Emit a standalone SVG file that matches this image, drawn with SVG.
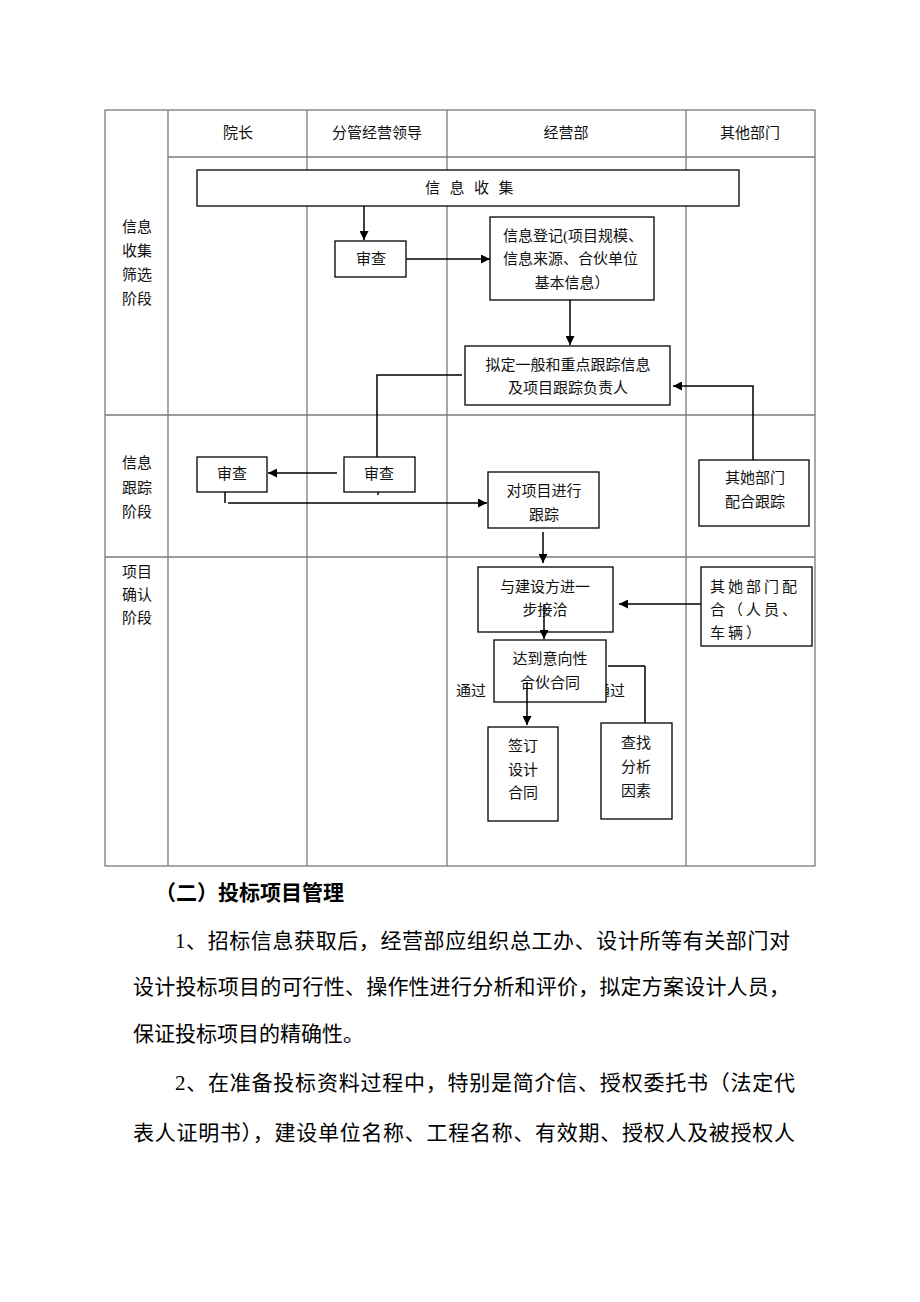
<svg xmlns="http://www.w3.org/2000/svg" width="920" height="1302" viewBox="0 0 920 1302">
<style>
.grid{stroke:#7a7a7a;stroke-width:1.3;fill:none}
.box{fill:#fff;stroke:#000;stroke-width:1.3}
.t{font-family:"Liberation Serif","Noto Sans CJK SC",serif;font-size:15px;fill:#111;text-anchor:middle;dominant-baseline:central}
.tl{text-anchor:start}
.c{stroke:#000;stroke-width:1.5;fill:none}
.p{font-family:"Liberation Serif","Noto Sans CJK SC",serif;font-size:21px;fill:#000;dominant-baseline:central}
</style>
<defs>
<marker id="ah" viewBox="0 0 10 10" refX="10" refY="5" markerWidth="9" markerHeight="9" markerUnits="userSpaceOnUse" orient="auto">
<path d="M0,0 L10,5 L0,10 z" fill="#000"/>
</marker>
</defs>
<rect width="920" height="1302" fill="#fff"/>
<g id="table">
<rect class="grid" x="105" y="110" width="710" height="756"/>
<line class="grid" x1="168" y1="110" x2="168" y2="866"/>
<line class="grid" x1="307" y1="110" x2="307" y2="866"/>
<line class="grid" x1="447" y1="110" x2="447" y2="866"/>
<line class="grid" x1="686" y1="110" x2="686" y2="866"/>
<line class="grid" x1="168" y1="157" x2="815" y2="157"/>
<line class="grid" x1="105" y1="415" x2="815" y2="415"/>
<line class="grid" x1="105" y1="557" x2="815" y2="557"/>
<text class="t" x="238" y="133">院长</text>
<text class="t" x="377" y="133">分管经营领导</text>
<text class="t" x="566" y="133">经营部</text>
<text class="t" x="750" y="133">其他部门</text>
<text class="t" x="137" y="227">信息</text>
<text class="t" x="137" y="251">收集</text>
<text class="t" x="137" y="275">筛选</text>
<text class="t" x="137" y="299">阶段</text>
<text class="t" x="137" y="463">信息</text>
<text class="t" x="137" y="488">跟踪</text>
<text class="t" x="137" y="512">阶段</text>
<text class="t" x="137" y="572">项目</text>
<text class="t" x="137" y="595">确认</text>
<text class="t" x="137" y="618">阶段</text>
</g>
<g id="labels">
<text class="t" x="471" y="691">通过</text>
<text class="t" x="610" y="691">通过</text>
</g>
<g id="connectors">
<line class="c" x1="364" y1="206" x2="364" y2="240" marker-end="url(#ah)"/>
<line class="c" x1="406" y1="259" x2="490" y2="259" marker-end="url(#ah)"/>
<line class="c" x1="570" y1="300" x2="570" y2="345" marker-end="url(#ah)"/>
<polyline class="c" points="462,375 377,375 377,457" stroke-width="1.2"/>
<polyline class="c" points="753,460 753,386 673,386" marker-end="url(#ah)"/>
<line class="c" x1="337" y1="473" x2="268" y2="473" marker-end="url(#ah)"/>
<line class="c" x1="378" y1="492" x2="378" y2="495" stroke-width="1"/>
<line class="c" x1="225" y1="492" x2="225" y2="503" stroke-width="1"/>
<line class="c" x1="228" y1="503" x2="487" y2="503" marker-end="url(#ah)"/>
<line class="c" x1="543" y1="532" x2="543" y2="563" marker-end="url(#ah)"/>
<line class="c" x1="701" y1="604" x2="619" y2="604" marker-end="url(#ah)"/>
<line class="c" x1="608" y1="666" x2="645" y2="666" stroke-width="1.2"/>
<line class="c" x1="645" y1="666" x2="645" y2="723" stroke-width="1.2"/>
</g>
<g id="n-collect"><rect class="box" x="197" y="170" width="542" height="36"/><text class="t tl" x="425" y="188" letter-spacing="9.5">信息收集</text></g>
<g id="n-review1"><rect class="box" x="335" y="241" width="71" height="36"/><text class="t" x="371" y="259">审查</text></g>
<g id="n-register"><rect class="box" x="490" y="217" width="164" height="83"/>
<text class="t tl" x="503" y="236">信息登记(项目规模、</text>
<text class="t tl" x="503" y="259">信息来源、合伙单位</text>
<text class="t" x="572" y="283">基本信息）</text></g>
<g id="n-define"><rect class="box" x="465" y="346" width="205" height="59"/>
<text class="t" x="568" y="365">拟定一般和重点跟踪信息</text>
<text class="t" x="568" y="388">及项目跟踪负责人</text></g>
<g id="n-review-dean"><rect class="box" x="197" y="457" width="70" height="35"/><text class="t" x="232" y="474">审查</text></g>
<g id="n-review2"><rect class="box" x="344" y="457" width="71" height="35"/><text class="t" x="379" y="474">审查</text></g>
<g id="n-track"><rect class="box" x="488" y="472" width="111" height="56"/>
<text class="t" x="544" y="491">对项目进行</text>
<text class="t" x="544" y="515">跟踪</text></g>
<g id="n-other-track"><rect class="box" x="699" y="460" width="110" height="66"/>
<text class="t" x="755" y="478">其她部门</text>
<text class="t" x="755" y="502">配合跟踪</text></g>
<g id="n-negotiate"><rect class="box" x="478" y="567" width="135" height="65"/>
<text class="t" x="545" y="587">与建设方进一</text>
<text class="t" x="545" y="610">步接洽</text></g>
<line class="c" x1="544" y1="605" x2="544" y2="639" marker-end="url(#ah)"/>
<g id="n-other-help"><rect class="box" x="701" y="567" width="111" height="79"/>
<text class="t tl" x="710" y="587" letter-spacing="3">其她部门配</text>
<text class="t tl" x="710" y="610" letter-spacing="3">合（人员、</text>
<text class="t tl" x="710" y="633" letter-spacing="3">车辆）</text></g>
<g id="n-intent"><rect class="box" x="494" y="640" width="112" height="62"/>
<text class="t" x="550" y="659">达到意向性</text>
<text class="t" x="550" y="683">合伙合同</text></g>
<line class="c" x1="527" y1="682" x2="527" y2="725" marker-end="url(#ah)"/>
<g id="n-sign"><rect class="box" x="488" y="727" width="70" height="94"/>
<text class="t" x="523" y="746">签订</text>
<text class="t" x="523" y="770">设计</text>
<text class="t" x="523" y="793">合同</text></g>
<g id="n-analyze"><rect class="box" x="601" y="723" width="71" height="96"/>
<text class="t" x="636" y="743">查找</text>
<text class="t" x="636" y="767">分析</text>
<text class="t" x="636" y="791">因素</text></g>
<g id="body">
<text class="p" x="155" y="893" font-weight="bold">（二）投标项目管理</text>
<text class="p" x="175" y="941" textLength="615" lengthAdjust="spacing">1、招标信息获取后，经营部应组织总工办、设计所等有关部门对</text>
<text class="p" x="133" y="987" textLength="657" lengthAdjust="spacing">设计投标项目的可行性、操作性进行分析和评价，拟定方案设计人员，</text>
<text class="p" x="133" y="1034">保证投标项目的精确性。</text>
<text class="p" x="175" y="1083" textLength="620" lengthAdjust="spacing">2、在准备投标资料过程中，特别是简介信、授权委托书（法定代</text>
<text class="p" x="133" y="1133" textLength="662" lengthAdjust="spacing">表人证明书），建设单位名称、工程名称、有效期、授权人及被授权人</text>
</g>
</svg>
